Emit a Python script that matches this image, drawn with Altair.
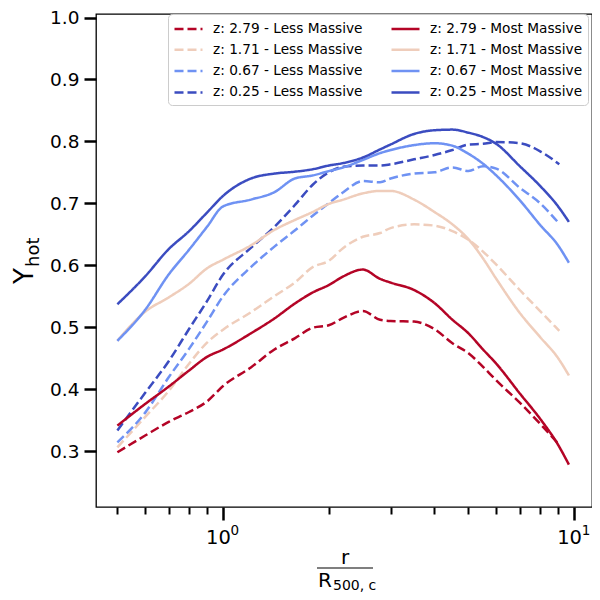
import altair as alt
import pandas as pd

# ---- data ----
x_solid = [0.5, 0.6, 0.7, 0.8, 0.9, 1.0, 1.2, 1.4, 1.6, 1.8, 2.0, 2.2, 2.5, 2.8,
           3.0, 3.5, 4.0, 4.5, 5.0, 5.5, 6.0, 7.0, 8.0, 9.0, 9.66]
x_dashed = [0.5, 0.6, 0.7, 0.8, 0.9, 1.0, 1.2, 1.4, 1.6, 1.8, 2.0, 2.2, 2.5, 2.8,
            3.0, 3.5, 4.0, 4.5, 5.0, 5.5, 6.0, 7.0, 8.0, 9.07]

less_279 = [0.298, 0.325, 0.347, 0.363, 0.380, 0.405, 0.435, 0.464, 0.482, 0.499, 0.503, 0.515,
            0.526, 0.512, 0.510, 0.509, 0.497, 0.474, 0.458, 0.436, 0.414, 0.378, 0.344, 0.310]
most_279 = [0.341, 0.376, 0.404, 0.430, 0.452, 0.464, 0.490, 0.514, 0.538, 0.556, 0.568, 0.582,
            0.593, 0.578, 0.572, 0.560, 0.539, 0.512, 0.490, 0.464, 0.441, 0.393, 0.352, 0.310, 0.278]
less_171 = [0.306, 0.355, 0.397, 0.441, 0.475, 0.496, 0.524, 0.550, 0.572, 0.597, 0.607, 0.628,
            0.646, 0.652, 0.660, 0.666, 0.664, 0.655, 0.641, 0.622, 0.601, 0.560, 0.526, 0.494]
most_171 = [0.478, 0.525, 0.548, 0.570, 0.595, 0.609, 0.632, 0.657, 0.673, 0.686, 0.699, 0.706,
            0.716, 0.720, 0.720, 0.706, 0.686, 0.666, 0.642, 0.611, 0.578, 0.523, 0.484, 0.450, 0.422]
less_067 = [0.314, 0.362, 0.419, 0.465, 0.509, 0.550, 0.597, 0.630, 0.656, 0.680, 0.700, 0.718,
            0.736, 0.734, 0.740, 0.748, 0.750, 0.758, 0.752, 0.760, 0.756, 0.725, 0.700, 0.667]
most_067 = [0.478, 0.528, 0.585, 0.625, 0.662, 0.695, 0.706, 0.718, 0.740, 0.745, 0.752, 0.758,
            0.770, 0.781, 0.786, 0.794, 0.797, 0.793, 0.780, 0.764, 0.745, 0.705, 0.665, 0.632, 0.604]
less_025 = [0.333, 0.394, 0.445, 0.497, 0.542, 0.585, 0.628, 0.662, 0.697, 0.730, 0.750, 0.759,
            0.761, 0.761, 0.763, 0.771, 0.778, 0.786, 0.795, 0.796, 0.799, 0.797, 0.784, 0.763]
most_025 = [0.537, 0.582, 0.626, 0.655, 0.685, 0.712, 0.740, 0.748, 0.751, 0.755, 0.761, 0.765,
            0.774, 0.787, 0.795, 0.812, 0.818, 0.819, 0.814, 0.807, 0.796, 0.760, 0.728, 0.695, 0.670]

# legend order (column by column, as in the reference)
labels = ["z: 2.79 - Less Massive", "z: 1.71 - Less Massive",
          "z: 0.67 - Less Massive", "z: 0.25 - Less Massive",
          "z: 2.79 - Most Massive", "z: 1.71 - Most Massive",
          "z: 0.67 - Most Massive", "z: 0.25 - Most Massive"]
series = [less_279, less_171, less_067, less_025, most_279, most_171, most_067, most_025]
colors = ["#b40426", "#efcdbb", "#6f92f3", "#3b4cc0", "#b40426", "#efcdbb", "#6f92f3", "#3b4cc0"]
dashes = [[9, 4], [9, 4], [9, 4], [9, 4], [1, 0], [1, 0], [1, 0], [1, 0]]

# major x tick labels: base and exponent
tick_pos = [1, 10]
tick_base = ["10", "10"]
tick_exp = ["0", "1"]

rows = []
for k, (lab, ys) in enumerate(zip(labels, series)):
    xs = x_dashed if "Less" in lab else x_solid
    for xv, yv in zip(xs, ys):
        rows.append({"label": lab, "r": xv, "yhot": yv, "k": k})
df = pd.DataFrame(rows)
ticks_df = pd.DataFrame({"r": tick_pos, "base": tick_base, "exp": tick_exp})

x_ticks = [0.5, 0.6, 0.7, 0.8, 0.9, 1, 2, 3, 4, 5, 6, 7, 8, 9, 10]
y_ticks = [0.3, 0.4, 0.5, 0.6, 0.7, 0.8, 0.9, 1.0]

FONT = "DejaVu Sans"
major = "datum.value == 1 || datum.value == 10"

leg = alt.Legend(title=None, orient="none", legendX=72, legendY=0, columns=2,
                 symbolType="M-1,0H2.5", symbolSize=256, symbolStrokeWidth=2.5,
                 labelFontSize=13.7, labelFont=FONT, labelColor="black",
                 fillColor="white", strokeColor="#cccccc", cornerRadius=4,
                 padding=5, rowPadding=4.3, columnPadding=23, labelOffset=21,
                 labelLimit=400)

xscale = alt.Scale(type="log", domain=[0.4346, 11.24], nice=False)

lines = alt.Chart(df).mark_line(strokeWidth=2.5, clip=True, interpolate="monotone").encode(
    x=alt.X("r:Q", scale=xscale,
            axis=alt.Axis(values=x_ticks, title=None, labels=False,
                          tickSize=alt.condition(major, alt.value(13), alt.value(7)),
                          tickWidth=alt.condition(major, alt.value(2.5), alt.value(2)),
                          grid=False, domain=False)),
    y=alt.Y("yhot:Q",
            scale=alt.Scale(domain=[0.2096, 1.0057], nice=False, zero=False),
            axis=alt.Axis(values=y_ticks, format=".1f", title=None, tickSize=12,
                          tickWidth=2.5, labelFontSize=18.5, labelPadding=5,
                          grid=False, domain=False, labelFlush=False)),
    color=alt.Color("label:N", scale=alt.Scale(domain=labels, range=colors), legend=leg),
    strokeDash=alt.StrokeDash("label:N", scale=alt.Scale(domain=labels, range=dashes), legend=leg),
    order=alt.Order("r:Q"),
)

tick_base_txt = alt.Chart(ticks_df).mark_text(
    font=FONT, fontSize=19.5, align="left", baseline="alphabetic", dx=-17, color="black"
).encode(x=alt.X("r:Q", scale=xscale), y=alt.value(530), text="base:N")
tick_exp_txt = alt.Chart(ticks_df).mark_text(
    font=FONT, fontSize=13.5, align="left", baseline="alphabetic", dx=7.5, color="black"
).encode(x=alt.X("r:Q", scale=xscale), y=alt.value(521), text="exp:N")

one = pd.DataFrame({"v": [0]})
txt = alt.Chart(one)

y_main = txt.mark_text(text="Y", font=FONT, fontSize=26, angle=270, align="left",
                       baseline="alphabetic", color="black").encode(
    x=alt.value(-63), y=alt.value(270))
y_sub = txt.mark_text(text="hot", font=FONT, fontSize=18, angle=270, align="left",
                      baseline="alphabetic", color="black").encode(
    x=alt.value(-57), y=alt.value(253))

r_top = txt.mark_text(text="r", font=FONT, fontSize=20, align="center",
                      baseline="alphabetic", color="black").encode(
    x=alt.value(249), y=alt.value(550))
frac = txt.mark_rule(color="black", strokeWidth=1.2).encode(
    x=alt.value(221), x2=alt.value(277), y=alt.value(554))
r_bot = txt.mark_text(text="R", font=FONT, fontSize=20, align="left",
                      baseline="alphabetic", color="black").encode(
    x=alt.value(222), y=alt.value(573))
r_sub = txt.mark_text(text="500, c", font=FONT, fontSize=14, align="left",
                      baseline="alphabetic", color="black").encode(
    x=alt.value(237), y=alt.value(576))

chart = alt.layer(lines, tick_base_txt, tick_exp_txt, y_main, y_sub,
                  r_top, frac, r_bot, r_sub).properties(
    width=496, height=493,
    padding={"left": 88, "top": 6, "right": 0, "bottom": 85},
    autosize=alt.AutoSizeParams(type="none"),
).configure_view(stroke="black", strokeWidth=1.3).configure_axis(
    labelFont=FONT, labelColor="black", tickColor="black"
)

chart.save("out.html", embed_options={"renderer": "svg", "actions": False})
